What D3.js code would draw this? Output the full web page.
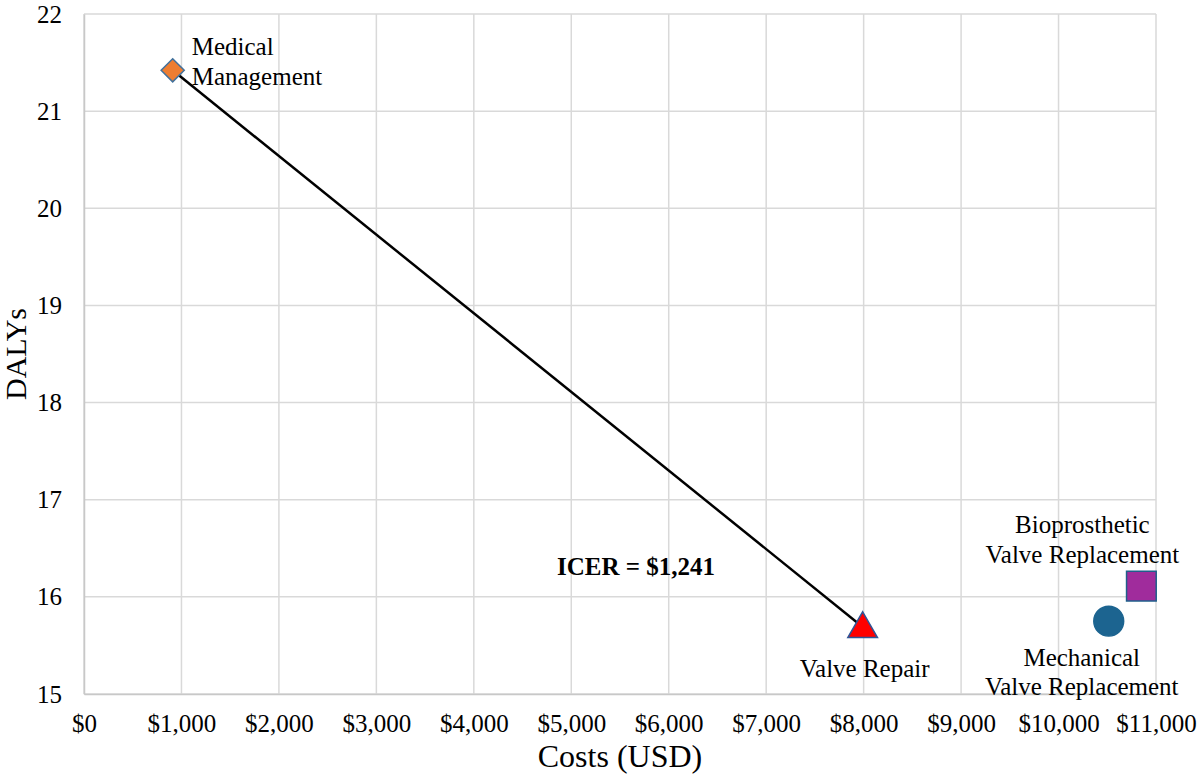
<!DOCTYPE html>
<html>
<head>
<meta charset="utf-8">
<script src="https://cdn.jsdelivr.net/npm/d3@7"></script>
<style>
  html, body { margin: 0; padding: 0; background: #fff; }
  text { font-family: "Liberation Serif", "Times New Roman", serif; fill: #000; }
</style>
</head>
<body>
<svg id="chart"></svg>
<script>
// strategies and their cost / DALY results
var strategies = ['Medical Management', 'Valve Repair', 'Mechanical Valve Replacement', 'Bioprosthetic Valve Replacement'];
var costs = [910, 7990, 10515, 10850];
var dalys = [21.42, 15.69, 15.75, 16.11];

var xTicks = [0, 1000, 2000, 3000, 4000, 5000, 6000, 7000, 8000, 9000, 10000, 11000];
var yTicks = [15, 16, 17, 18, 19, 20, 21, 22];
var icerText = 'ICER = $1,241';

var w = 1200,
	h = 782,
	margin = {top: 14, right: 44, bottom: 88, left: 84},
	svg, x, y, points;

points = strategies.map(function (s, i) {
	return {name: s, cost: costs[i], daly: dalys[i]};
});

svg = d3.select('#chart')
	.attr('width', w)
	.attr('height', h);

x = d3.scaleLinear().domain([0, 11000]).range([margin.left, w - margin.right]);
y = d3.scaleLinear().domain([15, 22]).range([h - margin.bottom, margin.top]);

// gridlines
svg.append('g')
	.selectAll('line')
	.data(xTicks)
	.enter()
	.append('line')
	.attr('x1', function (d) { return x(d); })
	.attr('x2', function (d) { return x(d); })
	.attr('y1', y(15))
	.attr('y2', y(22))
	.attr('stroke', '#d9d9d9')
	.attr('stroke-width', 1.5);

svg.append('g')
	.selectAll('line')
	.data(yTicks)
	.enter()
	.append('line')
	.attr('x1', x(0))
	.attr('x2', x(11000))
	.attr('y1', function (d) { return y(d); })
	.attr('y2', function (d) { return y(d); })
	.attr('stroke', '#d9d9d9')
	.attr('stroke-width', 1.5);

// axes
var xAxis = svg.append('g')
	.attr('transform', 'translate(0,' + y(15) + ')')
	.call(d3.axisBottom(x).tickValues(xTicks).tickSize(0).tickPadding(20)
		.tickFormat(function (d) { return '$' + d3.format(',')(d); }));

var yAxis = svg.append('g')
	.attr('transform', 'translate(' + x(0) + ',0)')
	.call(d3.axisLeft(y).tickValues(yTicks).tickSize(0).tickPadding(22)
		.tickFormat(d3.format('d')));

[xAxis, yAxis].forEach(function (a) {
	a.attr('font-family', null).attr('font-size', null);
	a.select('.domain').attr('stroke', '#c8c8c8').attr('stroke-width', 1.5);
	a.selectAll('text')
		.style('font-size', '25px')
		.attr('fill', '#000');
});

// axis titles
svg.append('text')
	.attr('x', (x(0) + x(11000)) / 2)
	.attr('y', 767)
	.attr('text-anchor', 'middle')
	.style('font-size', '32px')
	.text('Costs (USD)');

svg.append('text')
	.attr('transform', 'translate(26,' + (y(15) + y(22)) / 2 + ') rotate(-90)')
	.attr('text-anchor', 'middle')
	.style('font-size', '30px')
	.text('DALYs');

// frontier line: medical management -> valve repair
svg.append('line')
	.attr('x1', x(points[0].cost))
	.attr('y1', y(points[0].daly))
	.attr('x2', x(points[1].cost))
	.attr('y2', y(points[1].daly))
	.attr('stroke', '#000')
	.attr('stroke-width', 2.5);

// markers
var shapes = [
	{type: d3.symbolDiamond2, size: 340, fill: '#ED7D31', stroke: '#41719C', dy: 0},
	{type: d3.symbolTriangle, size: 380, fill: '#FF0000', stroke: '#2F5597', dy: 2},
	{type: d3.symbolCircle, size: 700, fill: '#1C6490', stroke: '#1C6490', dy: 0},
	{type: d3.symbolSquare, size: 880, fill: '#A02C9C', stroke: '#1F5F8B', dy: 0}
];

svg.append('g')
	.selectAll('path')
	.data(points)
	.enter()
	.append('path')
	.attr('transform', function (d, i) {
		return 'translate(' + x(d.cost) + ',' + (y(d.daly) + shapes[i].dy) + ')';
	})
	.attr('d', function (d, i) {
		return d3.symbol().type(shapes[i].type).size(shapes[i].size)();
	})
	.attr('fill', function (d, i) { return shapes[i].fill; })
	.attr('stroke', function (d, i) { return shapes[i].stroke; })
	.attr('stroke-width', 1.5);

// point labels
var labels = [
	{lines: ['Medical', 'Management'], dx: 19, dy: [-15, 15], anchor: 'start'},
	{lines: ['Valve Repair'], dx: 2, dy: [50], anchor: 'middle'},
	{lines: ['Mechanical', 'Valve Replacement'], dx: -27, dy: [45, 74], anchor: 'middle'},
	{lines: ['Bioprosthetic', 'Valve Replacement'], dx: -59, dy: [-53, -23], anchor: 'middle'}
];

points.forEach(function (d, i) {
	var lab = labels[i];
	lab.lines.forEach(function (t, j) {
		svg.append('text')
			.attr('x', x(d.cost) + lab.dx)
			.attr('y', y(d.daly) + lab.dy[j])
			.attr('text-anchor', lab.anchor)
			.style('font-size', '25px')
			.text(t);
	});
});

// ICER annotation
svg.append('text')
	.attr('x', 557)
	.attr('y', 575)
	.style('font-size', '25px')
	.style('font-weight', 'bold')
	.text(icerText);
</script>
</body>
</html>
